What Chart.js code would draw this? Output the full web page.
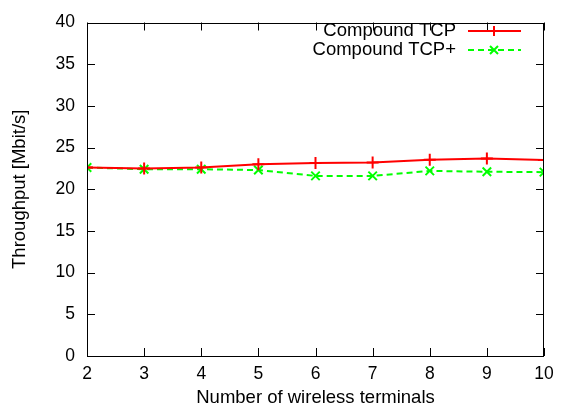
<!DOCTYPE html>
<html>
<head>
<meta charset="utf-8">
<script src="https://cdn.jsdelivr.net/npm/chart.js@4.4.0/dist/chart.umd.min.js"></script>
<style>
  html, body { margin: 0; padding: 0; background: #fff; }
  #wrap { width: 563px; height: 414px; }
</style>
</head>
<body>
<div id="wrap"><canvas id="c" width="563" height="414"></canvas></div>
<script>
var terminals = [2, 3, 4, 5, 6, 7, 8, 9, 10];
var ctcp     = [22.6, 22.5, 22.6, 23.0, 23.15, 23.2, 23.55, 23.7, 23.5];
var ctcpPlus = [22.6, 22.4, 22.4, 22.3, 21.6, 21.6, 22.2, 22.1, 22.05];
var seriesNames = ['Compound TCP', 'Compound TCP+'];

var FONT = 'Liberation Sans, Arial, Helvetica, sans-serif';

function toXY(xs, ys) {
	return xs.map(function (x, i) { return {x: x, y: ys[i]}; });
}

// gnuplot style frame: box with inward ticks on all four sides + legend in top right
var frame = {
	id: 'frame',
	afterDatasetsDraw: function (chart) {
		var ctx = chart.ctx;
		var a = chart.chartArea;
		var xs = chart.scales.x, ys = chart.scales.y;
		var tl = 8;
		ctx.save();
		ctx.strokeStyle = '#000';
		ctx.lineWidth = 1;
		ctx.beginPath();
		xs.ticks.forEach(function (t) {
			var px = Math.round(xs.getPixelForValue(t.value)) + 0.5;
			ctx.moveTo(px, a.bottom); ctx.lineTo(px, a.bottom - tl);
			ctx.moveTo(px, a.top); ctx.lineTo(px, a.top + tl);
		});
		ys.ticks.forEach(function (t) {
			var py = Math.round(ys.getPixelForValue(t.value)) + 0.5;
			ctx.moveTo(a.left, py); ctx.lineTo(a.left + tl, py);
			ctx.moveTo(a.right, py); ctx.lineTo(a.right - tl, py);
		});
		ctx.stroke();
		ctx.strokeRect(Math.round(a.left) + 0.5, Math.round(a.top) + 0.5,
			Math.round(a.right - a.left) - 1, Math.round(a.bottom - a.top) - 1);

		// legend
		ctx.font = '18.5px ' + FONT;
		ctx.textAlign = 'right';
		ctx.textBaseline = 'middle';
		chart.data.datasets.forEach(function (ds, i) {
			var y = 31 + i * 19;
			ctx.fillStyle = '#000';
			ctx.fillText(ds.label, 456, y);
			ctx.strokeStyle = ds.borderColor;
			ctx.lineWidth = 2;
			ctx.setLineDash(ds.borderDash || []);
			ctx.beginPath();
			ctx.moveTo(468, y); ctx.lineTo(521, y);
			ctx.stroke();
			ctx.setLineDash([]);
			ctx.beginPath();
			var r = 5;
			if (ds.pointStyle === 'cross') {
				ctx.moveTo(494 - r, y); ctx.lineTo(494 + r, y);
				ctx.moveTo(494, y - r); ctx.lineTo(494, y + r);
			} else {
				var d = r * 0.8;
				ctx.moveTo(494 - d, y - d); ctx.lineTo(494 + d, y + d);
				ctx.moveTo(494 - d, y + d); ctx.lineTo(494 + d, y - d);
			}
			ctx.stroke();
		});
		ctx.restore();
	}
};

new Chart(document.getElementById('c').getContext('2d'), {
	type: 'line',
	data: {
		datasets: [{
			label: seriesNames[0],
			data: toXY(terminals, ctcp),
			borderColor: '#ff0000',
			backgroundColor: '#ff0000',
			borderWidth: 2,
			pointStyle: 'cross',
			pointRadius: 6,
			pointBorderWidth: 2,
			tension: 0
		}, {
			label: seriesNames[1],
			data: toXY(terminals, ctcpPlus),
			borderColor: '#00ff00',
			backgroundColor: '#00ff00',
			borderWidth: 2,
			borderDash: [6, 4],
			pointStyle: 'crossRot',
			pointRadius: 6,
			pointBorderWidth: 2,
			tension: 0
		}]
	},
	options: {
		responsive: false,
		animation: false,
		layout: { padding: { left: 0, right: 19, top: 13, bottom: 0 } },
		plugins: { legend: { display: false }, tooltip: { enabled: false } },
		scales: {
			x: {
				type: 'linear',
				min: 2, max: 10,
				grid: { display: false, drawTicks: false },
				border: { display: false },
				ticks: { stepSize: 1, padding: 8, color: '#000', font: { family: FONT, size: 17.5 } },
				title: { display: true, text: 'Number of wireless terminals', color: '#000',
					font: { family: FONT, size: 18.5 }, padding: { top: 0, bottom: 5 } },
				afterFit: function (s) { s.height = 58; }
			},
			y: {
				min: 0, max: 40,
				grid: { display: false, drawTicks: false },
				border: { display: false },
				ticks: { stepSize: 5, padding: 12, color: '#000', font: { family: FONT, size: 17.5 } },
				title: { display: true, text: 'Throughput [Mbit/s]', color: '#000',
					font: { family: FONT, size: 18.5 }, padding: { top: 9, bottom: 0 } },
				afterFit: function (s) { s.width = 87; }
			}
		}
	},
	plugins: [frame]
});
</script>
</body>
</html>
